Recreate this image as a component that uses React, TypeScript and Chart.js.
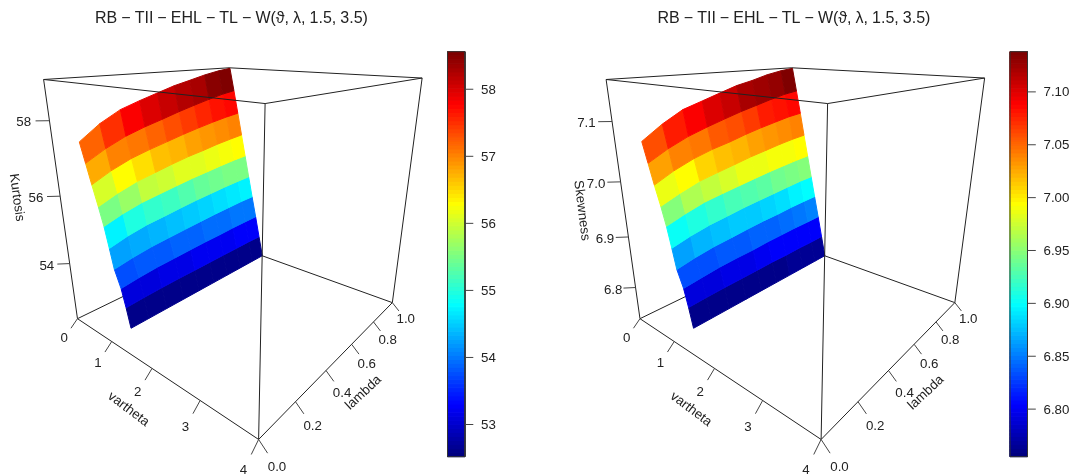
import React, { useEffect, useRef } from "react";
import { Chart, registerables } from "chart.js";

Chart.register(...registerables);

// ---- data ----
const thetaAxisTicks = [0, 1, 2, 3, 4];
const lambdaAxisTicks = [0, 0.2, 0.4, 0.6, 0.8, 1];
const kurtosisAxisTicks = [54, 56, 58];
const skewnessAxisTicks = [6.8, 6.9, 7.0, 7.1];
const kurtosisBarTicks = [53, 54, 55, 56, 57, 58];
const skewnessBarTicks = [6.8, 6.85, 6.9, 6.95, 7.0, 7.05, 7.1];

// surface nodes, bottom row first
const thetaGrid = [
  [0.944, 0.945, 0.946, 0.947, 0.948, 0.95, 0.951, 0.952, 0.953, 0.954],
  [0.87, 0.86, 0.857, 0.86, 0.862, 0.861, 0.861, 0.861, 0.861, 0.864],
  [0.854, 0.825, 0.808, 0.805, 0.8, 0.786, 0.776, 0.764, 0.754, 0.751],
  [0.831, 0.784, 0.757, 0.752, 0.741, 0.718, 0.699, 0.677, 0.657, 0.651],
  [0.81, 0.747, 0.711, 0.708, 0.696, 0.664, 0.639, 0.608, 0.58, 0.573],
  [0.791, 0.707, 0.663, 0.663, 0.649, 0.607, 0.573, 0.531, 0.492, 0.483],
  [0.88, 0.771, 0.711, 0.708, 0.685, 0.62, 0.564, 0.496, 0.429, 0.406],
  [0.952, 0.819, 0.748, 0.751, 0.725, 0.636, 0.557, 0.456, 0.355, 0.318],
  [1.12, 0.977, 0.906, 0.922, 0.89, 0.76, 0.63, 0.459, 0.272, 0.178],
  [1.435, 1.141, 0.967, 1.006, 0.986, 0.794, 0.633, 0.393, 0.144, 0.132],
];
const lambdaGrid = [
  [0.105, 0.198, 0.3, 0.403, 0.504, 0.606, 0.707, 0.81, 0.912, 1.001],
  [0.103, 0.198, 0.3, 0.402, 0.502, 0.605, 0.705, 0.808, 0.909, 0.997],
  [0.091, 0.188, 0.292, 0.394, 0.495, 0.599, 0.702, 0.807, 0.911, 1.0],
  [0.073, 0.173, 0.279, 0.38, 0.482, 0.589, 0.693, 0.801, 0.908, 0.998],
  [0.064, 0.166, 0.272, 0.372, 0.473, 0.58, 0.684, 0.793, 0.902, 0.991],
  [0.054, 0.158, 0.265, 0.363, 0.463, 0.571, 0.677, 0.788, 0.898, 0.987],
  [0.026, 0.132, 0.239, 0.335, 0.434, 0.546, 0.655, 0.771, 0.887, 0.98],
  [-0.001, 0.106, 0.213, 0.306, 0.404, 0.519, 0.631, 0.754, 0.879, 0.976],
  [-0.04, 0.066, 0.168, 0.255, 0.35, 0.469, 0.59, 0.728, 0.874, 0.986],
  [-0.099, 0.026, 0.143, 0.223, 0.312, 0.441, 0.567, 0.72, 0.881, 0.969],
];
const kurtosisGrid = [
  [52.52, 52.52, 52.52, 52.52, 52.52, 52.52, 52.52, 52.52, 52.52, 52.52],
  [53.08, 53.10, 53.12, 53.14, 53.15, 53.16, 53.17, 53.18, 53.19, 53.19],
  [53.65, 53.69, 53.73, 53.76, 53.79, 53.81, 53.82, 53.84, 53.85, 53.86],
  [54.21, 54.27, 54.33, 54.38, 54.42, 54.45, 54.48, 54.50, 54.52, 54.53],
  [54.77, 54.86, 54.94, 55.00, 55.06, 55.10, 55.13, 55.16, 55.18, 55.20],
  [55.34, 55.44, 55.54, 55.62, 55.69, 55.74, 55.78, 55.82, 55.85, 55.88],
  [55.90, 56.02, 56.14, 56.24, 56.33, 56.39, 56.43, 56.48, 56.51, 56.55],
  [56.47, 56.61, 56.75, 56.87, 56.96, 57.03, 57.09, 57.14, 57.18, 57.22],
  [57.03, 57.19, 57.35, 57.49, 57.59, 57.67, 57.74, 57.80, 57.85, 57.89],
  [57.59, 57.78, 57.96, 58.11, 58.23, 58.32, 58.39, 58.46, 58.51, 58.56],
];
const skewnessGrid = [
  [6.755, 6.755, 6.755, 6.755, 6.755, 6.755, 6.755, 6.755, 6.755, 6.755],
  [6.791, 6.792, 6.793, 6.794, 6.795, 6.796, 6.796, 6.797, 6.797, 6.798],
  [6.827, 6.829, 6.832, 6.834, 6.835, 6.837, 6.838, 6.839, 6.839, 6.84],
  [6.862, 6.866, 6.87, 6.873, 6.876, 6.878, 6.879, 6.881, 6.882, 6.883],
  [6.898, 6.903, 6.908, 6.912, 6.916, 6.918, 6.92, 6.922, 6.924, 6.925],
  [6.934, 6.94, 6.947, 6.952, 6.956, 6.959, 6.962, 6.964, 6.966, 6.968],
  [6.97, 6.977, 6.985, 6.991, 6.996, 7.0, 7.003, 7.006, 7.008, 7.01],
  [7.005, 7.014, 7.023, 7.031, 7.036, 7.041, 7.045, 7.048, 7.051, 7.053],
  [7.041, 7.051, 7.061, 7.07, 7.077, 7.082, 7.086, 7.09, 7.093, 7.095],
  [7.077, 7.088, 7.1, 7.109, 7.117, 7.123, 7.127, 7.132, 7.135, 7.138],
];
// colour value of every facet, bottom row first
const kurtosisFacets = [
  [52.6, 52.6, 52.61, 52.61, 52.62, 52.62, 52.63, 52.63, 52.64],
  [53.09, 53.12, 53.15, 53.18, 53.21, 53.24, 53.24, 53.27, 53.27],
  [53.75, 53.79, 53.82, 53.85, 53.88, 53.91, 53.94, 53.97, 54.03],
  [54.27, 54.33, 54.39, 54.45, 54.51, 54.57, 54.63, 54.69, 54.75],
  [54.75, 54.97, 55.06, 55.16, 55.26, 55.36, 55.45, 55.5, 55.54],
  [55.54, 55.72, 55.92, 56.02, 56.11, 56.14, 56.2, 56.25, 56.3],
  [56.07, 56.3, 56.48, 56.63, 56.72, 56.81, 56.87, 56.95, 57.02],
  [56.75, 56.99, 57.09, 57.21, 57.33, 57.43, 57.59, 57.69, 57.76],
  [57.23, 57.53, 57.81, 57.96, 58.11, 58.23, 58.31, 58.44, 58.56],
];
const skewnessFacets = [
  [6.761, 6.761, 6.761, 6.762, 6.762, 6.762, 6.763, 6.763, 6.763],
  [6.791, 6.793, 6.795, 6.797, 6.799, 6.801, 6.801, 6.803, 6.803],
  [6.833, 6.835, 6.837, 6.839, 6.841, 6.843, 6.845, 6.847, 6.851],
  [6.866, 6.87, 6.874, 6.878, 6.881, 6.885, 6.889, 6.893, 6.897],
  [6.901, 6.912, 6.918, 6.924, 6.929, 6.935, 6.941, 6.944, 6.947],
  [6.95, 6.962, 6.973, 6.979, 6.985, 6.987, 6.989, 6.992, 6.994],
  [6.985, 6.996, 7.008, 7.017, 7.023, 7.027, 7.031, 7.036, 7.04],
  [7.027, 7.04, 7.046, 7.054, 7.061, 7.067, 7.077, 7.083, 7.087],
  [7.058, 7.077, 7.092, 7.102, 7.111, 7.119, 7.123, 7.13, 7.138],
];

const TITLE = "RB \u2212 TII \u2212 EHL \u2212 TL \u2212 W(\u03D1, \u03BB, 1.5, 3.5)";
const FONT = '13.3px "Liberation Sans", Arial, sans-serif';
const INK = "#222222";
const LINE = "#222222";

// ---- camera of the perspective box: (theta/4, lambda, z) -> panel space ----
const camera = [
  103.46252, 237.33668, -41.41751, 77.47742,
  -11.21078, 15.16697, -252.96639, 318.68007,
  -0.30034, 0.36646, -0.17336,
];
type Pt = { x: number; y: number };
function project(t: number, l: number, s: number): Pt {
  const c = camera;
  const w = c[8] * t + c[9] * l + c[10] * s + 1;
  return {
    x: (c[0] * t + c[1] * l + c[2] * s + c[3]) / w,
    y: (c[4] * t + c[5] * l + c[6] * s + c[7]) / w,
  };
}

// ---- jet colour ramp, 100 steps ----
const jetStops = [
  [0, 0, 127], [0, 0, 255], [0, 127, 255], [0, 255, 255], [127, 255, 127],
  [255, 255, 0], [255, 127, 0], [255, 0, 0], [127, 0, 0],
];
function jet(v: number): string {
  const idx = Math.min(99, Math.max(0, Math.floor(v * 100)));
  const u = (idx / 99) * 8;
  const a = Math.min(7, Math.floor(u));
  const f = u - a;
  const c = jetStops[a].map((s, i) => Math.round(s + (jetStops[a + 1][i] - s) * f));
  return `rgb(${c[0]},${c[1]},${c[2]})`;
}

type PanelSpec = {
  left: number;
  shift: number;
  grid: number[][];
  facets: number[][];
  range: [number, number];
  axisRange: [number, number];
  axisTicks: number[];
  axisDigits: number;
  barTicks: number[];
  barDigits: number;
  zLabel: string;
  zLabelPos: [number, number, number];
};

function buildPanel(p: PanelSpec) {
  const [zMin, zMax] = p.range;
  const norm = (v: number) => (v - zMin) / (zMax - zMin);
  const axisS = (v: number) => (v - p.axisRange[0]) / (p.axisRange[1] - p.axisRange[0]);
  const ds: any[] = [];
  const texts: any[] = [];
  const stroke = (pts: Pt[], color = LINE) =>
    ds.push({ data: pts, showLine: true, pointRadius: 0, borderWidth: 1, borderColor: color, fill: false, clip: false });
  const shape = (pts: Pt[], color: string, bw = 1) =>
    ds.push({
      data: [...pts, pts[0]], showLine: true, pointRadius: 0, borderWidth: bw, borderColor: color,
      backgroundColor: color, fill: "shape", clip: false,
    });
  const label = (text: string, at: Pt, angle = 0, align = "center") => texts.push({ text, x: at.x, y: at.y, angle, align });

  // back of the box
  stroke([project(0, 0, 0), project(0, 1, 0), project(1, 1, 0)]);
  stroke([project(0, 1, 0), project(0, 1, 1)]);
  stroke([project(0, 0, 1), project(0, 1, 1), project(1, 1, 1)]);

  // surface
  for (let i = 0; i < 9; i++) {
    for (let j = 0; j < 9; j++) {
      const node = (a: number, b: number) =>
        project(thetaGrid[a][b] / 4, lambdaGrid[a][b], norm(p.grid[a][b]));
      shape([node(i, j), node(i, j + 1), node(i + 1, j + 1), node(i + 1, j)], jet(norm(p.facets[i][j])));
    }
  }

  // front of the box
  stroke([project(0, 0, 0), project(1, 0, 0), project(1, 1, 0), project(1, 1, 1), project(1, 0, 1), project(0, 0, 1), project(0, 0, 0)]);
  stroke([project(1, 0, 0), project(1, 0, 1)]);

  // axis ticks and labels
  const tick = (a: Pt, b: Pt, text: string, m = 2.05, dy = 0) => {
    stroke([a, b], "#444444");
    label(text, { x: a.x + (b.x - a.x) * m, y: a.y + (b.y - a.y) * m + dy });
  };
  thetaAxisTicks.forEach((t) => tick(project(t / 4, 0, 0), project(t / 4, -0.035, -0.03), String(t)));
  lambdaAxisTicks.forEach((l) => tick(project(1, l, 0), project(1.035, l, -0.03), l.toFixed(1)));
  p.axisTicks.forEach((v) => {
    const s = axisS(v);
    tick(project(0, 0, s), project(-0.035, -0.035, s), v.toFixed(p.axisDigits), 1.85, 1.5);
  });
  label("vartheta", { x: 128.5, y: 409.3 }, 37);
  label("lambda", { x: 363.5, y: 392.7 }, -43);
  label(p.zLabel, { x: p.zLabelPos[0], y: p.zLabelPos[1] }, p.zLabelPos[2]);

  // colour key
  const barL = 447.5, barR = 465, barT = 51.7, barB = 456.7;
  const barY = (v: number) => barB - (barB - barT) * norm(v);
  for (let k = 0; k < 100; k++) {
    const lo = zMin + ((zMax - zMin) * k) / 100;
    const hi = zMin + ((zMax - zMin) * (k + 1)) / 100;
    shape(
      [{ x: barL, y: barY(lo) }, { x: barR, y: barY(lo) }, { x: barR, y: barY(hi) }, { x: barL, y: barY(hi) }],
      jet((k + 0.5) / 100), 1,
    );
  }
  stroke([{ x: barL, y: barT }, { x: barR, y: barT }, { x: barR, y: barB }, { x: barL, y: barB }, { x: barL, y: barT }], "#333333");
  p.barTicks.forEach((v) => {
    stroke([{ x: barR, y: barY(v) }, { x: barR + 8.3, y: barY(v) }], "#444444");
    texts.push({ text: v.toFixed(p.barDigits), x: 481, y: barY(v) + 0.8, angle: 0, align: "left" });
  });
  return { ds: ds.reverse(), texts };
}

function Panel(props: { spec: PanelSpec }) {
  const ref = useRef<HTMLCanvasElement | null>(null);
  const { spec } = props;
  useEffect(() => {
    const { ds, texts } = buildPanel(spec);
    const textPlugin = {
      id: "panelText",
      afterDatasetsDraw(chart: any) {
        const { ctx, scales } = chart;
        ctx.save();
        ctx.fillStyle = INK;
        ctx.font = '16px "Liberation Sans", Arial, sans-serif';
        ctx.textAlign = "left";
        ctx.textBaseline = "alphabetic";
        (ctx as any).wordSpacing = "-0.4px";
        ctx.fillText(TITLE, scales.x.getPixelForValue(95), scales.y.getPixelForValue(23.3));
        (ctx as any).wordSpacing = "0px";
        ctx.font = FONT;
        ctx.textBaseline = "middle";
        for (const t of texts) {
          ctx.save();
          ctx.translate(scales.x.getPixelForValue(t.x), scales.y.getPixelForValue(t.y));
          ctx.rotate((t.angle * Math.PI) / 180);
          ctx.textAlign = t.align;
          ctx.fillText(t.text, 0, 0);
          ctx.restore();
        }
        ctx.restore();
      },
    };
    const chart = new Chart(ref.current as HTMLCanvasElement, {
      type: "scatter",
      data: { datasets: ds },
      options: {
        animation: false,
        responsive: false,
        events: [],
        layout: { padding: 0 },
        plugins: { legend: { display: false }, tooltip: { enabled: false }, title: { display: false } },
        scales: {
          x: { type: "linear", min: -spec.shift, max: 515 - spec.shift, display: false },
          y: { type: "linear", min: 0, max: 476, reverse: true, display: false },
        },
      },
      plugins: [textPlugin],
    } as any);
    return () => chart.destroy();
  }, [spec]);
  return (
    <canvas
      ref={ref}
      width={515}
      height={476}
      style={{ position: "absolute", left: spec.left, top: 0, width: 515, height: 476, display: "block" }}
    />
  );
}

const kurtosisSpec: PanelSpec = {
  left: 0, shift: 0, grid: kurtosisGrid, facets: kurtosisFacets,
  range: [52.52, 58.56], axisRange: [52.19, 59.0], axisTicks: kurtosisAxisTicks, axisDigits: 0,
  barTicks: kurtosisBarTicks, barDigits: 0, zLabel: "Kurtosis", zLabelPos: [16.7, 197.5, 82],
};
const skewnessSpec: PanelSpec = {
  left: 562, shift: 0.5, grid: skewnessGrid, facets: skewnessFacets,
  range: [6.755, 7.138], axisRange: [6.734, 7.1645], axisTicks: skewnessAxisTicks, axisDigits: 1,
  barTicks: skewnessBarTicks, barDigits: 2, zLabel: "Skewness", zLabelPos: [19.2, 210.5, 83],
};

export default function App() {
  return (
    <div style={{ position: "absolute", left: 0, top: 0, width: 1077, height: 476, background: "#fff", overflow: "hidden" }}>
      <Panel spec={kurtosisSpec} />
      <Panel spec={skewnessSpec} />
    </div>
  );
}
